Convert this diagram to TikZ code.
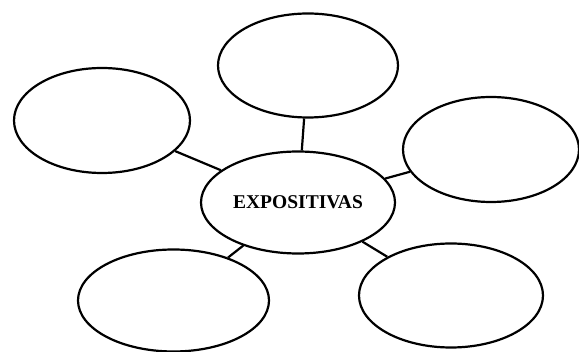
\documentclass[tikz,border=0pt]{standalone}
\usepackage{fontspec}
\setmainfont{Liberation Serif}
\usetikzlibrary{shapes.geometric}
\begin{document}
\begin{tikzpicture}[x=1pt,y=-1pt,
  bubble/.style={ellipse,draw=black,line width=2.2pt,inner sep=0pt,fill=white},
  link/.style={draw=black,line width=2.2pt}]
\useasboundingbox (0,0) rectangle (579,352);
\node[bubble,minimum width=194pt,minimum height=102pt,font=\bfseries\fontsize{19.5}{22}\selectfont] (main) at (298,202.5) {EXPOSITIVAS};
\node[bubble,minimum width=180pt,minimum height=104pt] (top) at (308,65.5) {};
\node[bubble,minimum width=176pt,minimum height=105pt] (tl) at (102,120.5) {};
\node[bubble,minimum width=176pt,minimum height=105pt] (rt) at (491,149.5) {};
\node[bubble,minimum width=191pt,minimum height=102pt] (bl) at (173.5,300.5) {};
\node[bubble,minimum width=184pt,minimum height=104pt] (br) at (451,295.5) {};
\draw[link] (main) -- (top);
\draw[link] (main) -- (tl);
\draw[link] (main) -- (rt);
\draw[link] (main) -- (bl);
\draw[link] (main) -- (br);
\end{tikzpicture}
\end{document}
